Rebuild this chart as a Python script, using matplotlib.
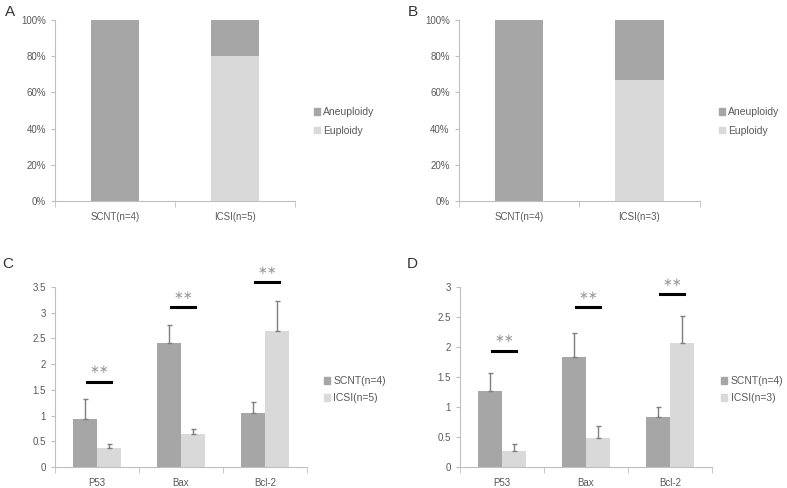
import numpy as np
import matplotlib.pyplot as plt
from matplotlib.patches import Patch

plt.rcParams['font.family'] = ['Liberation Sans', 'DejaVu Sans']

# ploidy data (percent)
groups_a = ["SCNT(n=4)", "ICSI(n=5)"]
euploid_a = [0, 80]
aneuploid_a = [100, 20]
groups_b = ["SCNT(n=4)", "ICSI(n=3)"]
euploid_b = [0, 66.7]
aneuploid_b = [100, 33.3]

# gene expression data
genes = ["P53", "Bax", "Bcl-2"]
scnt_c = [0.94, 2.41, 1.05]
scnt_c_err = [0.38, 0.35, 0.22]
icsi_c = [0.37, 0.64, 2.65]
icsi_c_err = [0.07, 0.10, 0.58]
sig_c = [1.66, 3.11, 3.60]

scnt_d = [1.27, 1.84, 0.84]
scnt_d_err = [0.29, 0.39, 0.16]
icsi_d = [0.27, 0.49, 2.06]
icsi_d_err = [0.11, 0.19, 0.46]
sig_d = [1.94, 2.67, 2.88]

dark = "#a6a6a6"
light = "#d9d9d9"
txt = "#595959"
spine = "#bfbfbf"

fig = plt.figure(figsize=(7.87, 4.88), dpi=100)


def style_axes(ax):
    for s in ["top", "right"]:
        ax.spines[s].set_visible(False)
    ax.spines["left"].set_color(spine)
    ax.spines["bottom"].set_color(spine)
    ax.tick_params(axis="both", colors=spine, labelcolor=txt, labelsize=7,
                   length=3, width=0.8)


def ploidy(rect, groups, eup, aneu, letter):
    ax = fig.add_axes(rect)
    x = np.arange(len(groups))
    ax.bar(x, eup, 0.4, color=light)
    ax.bar(x, aneu, 0.4, bottom=eup, color=dark)
    ax.set_xlim(-0.5, len(groups) - 0.5)
    ax.set_ylim(0, 100)
    ax.set_yticks(range(0, 101, 20))
    ax.set_yticklabels([f"{v}%" for v in range(0, 101, 20)])
    ax.set_xticks(x)
    ax.set_xticklabels(groups)
    ax.set_xticks(np.arange(-0.5, len(groups)), minor=True)
    style_axes(ax)
    ax.tick_params(axis="x", which="major", length=0, pad=8)
    ax.tick_params(axis="x", which="minor", length=4, colors=spine)
    handles = [Patch(color=dark, label="Aneuploidy"), Patch(color=light, label="Euploidy")]
    leg = ax.legend(handles=handles, loc="center left", bbox_to_anchor=(1.04, 0.44),
                    frameon=False, fontsize=7.5, handlelength=0.6, handleheight=0.6,
                    handletextpad=0.3, labelspacing=0.8)
    for t in leg.get_texts():
        t.set_color(txt)
    ax.text(-0.21, 1.045, letter, transform=ax.transAxes, fontsize=11, color="#333333",
            va="center")
    return ax


def expression(rect, scnt, serr, icsi, ierr, sig, ymax, n_icsi, letter, leg_x):
    ax = fig.add_axes(rect)
    x = np.arange(len(genes))
    w = 0.285
    ekw = dict(ecolor="#7f7f7f", elinewidth=1, capthick=1)
    ax.bar(x - w / 2, scnt, w, color=dark,
           yerr=[np.zeros(len(scnt)), serr], capsize=1.8, error_kw=ekw)
    ax.bar(x + w / 2, icsi, w, color=light,
           yerr=[np.zeros(len(icsi)), ierr], capsize=1.8, error_kw=ekw)
    ax.set_xlim(-0.5, len(genes) - 0.5)
    ax.set_ylim(0, ymax)
    ticks = np.arange(0, ymax + 0.01, 0.5)
    ax.set_yticks(ticks)
    ax.set_yticklabels([f"{t:g}" for t in ticks])
    ax.set_xticks(x)
    ax.set_xticklabels(genes)
    ax.set_xticks(np.arange(-0.5, len(genes)), minor=True)
    style_axes(ax)
    ax.tick_params(axis="x", which="major", length=0, pad=8)
    ax.tick_params(axis="x", which="minor", length=4, colors=spine)
    dy = ymax / 180 * 13
    for xi, s in zip(x, sig):
        ax.plot([xi - 0.12, xi + 0.17], [s, s], color="black", lw=2.2, clip_on=False)
        ax.text(xi + 0.025, s + dy * 0.4, "\u2217\u2217", ha="center", va="bottom",
                fontsize=8.5, color="#999999", family="DejaVu Sans", clip_on=False)
    handles = [Patch(color=dark, label="SCNT(n=4)"), Patch(color=light, label=f"ICSI(n={n_icsi})")]
    leg = ax.legend(handles=handles, loc="center left", bbox_to_anchor=(leg_x, 0.43),
                    frameon=False, fontsize=7.5, handlelength=0.6, handleheight=0.6,
                    handletextpad=0.3, labelspacing=0.7)
    for t in leg.get_texts():
        t.set_color(txt)
    ax.text(-0.21, 1.13, letter, transform=ax.transAxes, fontsize=11, color="#333333",
            va="center")
    return ax


ploidy([0.0699, 0.588, 0.305, 0.371], groups_a, euploid_a, aneuploid_a, "A")
ploidy([0.583, 0.588, 0.306, 0.371], groups_b, euploid_b, aneuploid_b, "B")
expression([0.0699, 0.043, 0.320, 0.369], scnt_c, scnt_c_err, icsi_c, icsi_c_err,
           sig_c, 3.5, 5, "C", 1.03)
expression([0.5845, 0.043, 0.320, 0.369], scnt_d, scnt_d_err, icsi_d, icsi_d_err,
           sig_d, 3.0, 3, "D", 1.0)

fig.savefig("out.png", dpi=100)
